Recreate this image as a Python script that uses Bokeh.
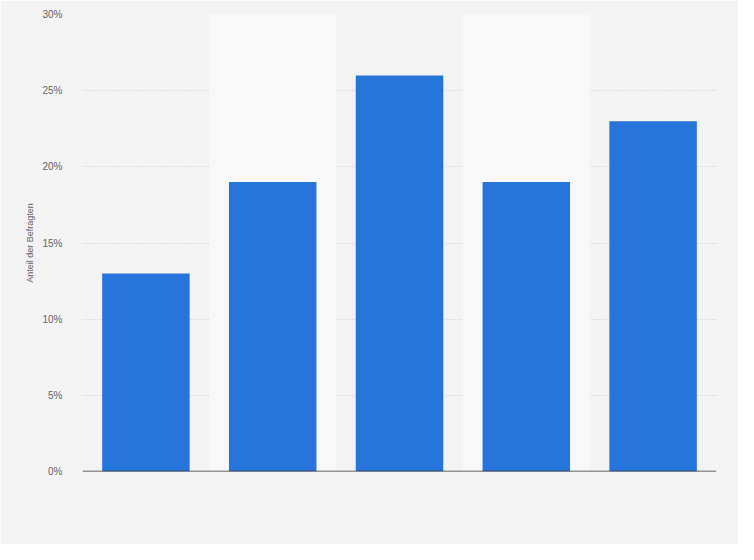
from bokeh.plotting import figure
from bokeh.models import ColumnDataSource, Range1d, FixedTicker, Span
from bokeh.embed import file_html
from bokeh.resources import INLINE

categories = ["1", "2", "3", "4", "5"]
values = [13, 19, 26, 19, 23]
band_categories = ["2", "4"]
y_ticks = [0, 5, 10, 15, 20, 25, 30]
y_tick_labels = ["0%", "5%", "10%", "15%", "20%", "25%", "30%"]

p = figure(width=738, height=544, x_range=categories, y_range=Range1d(0, 30),
           output_backend="svg", toolbar_location=None,
           min_border_left=82, min_border_right=22, min_border_top=14, min_border_bottom=73)
p.background_fill_color = "#f3f3f3"
p.border_fill_color = "#f3f3f3"
p.outline_line_color = None

p.vbar(x=band_categories, top=[30, 30], bottom=0, width=1.0, color="#f8f8f8", line_color=None)

src = ColumnDataSource(dict(x=categories, top=values))
p.vbar(x="x", top="top", width=0.69, source=src, color="#2775db", line_color=None)

p.xaxis.visible = False
p.xgrid.visible = False
p.ygrid.grid_line_color = "#c8c8c8"
p.ygrid.grid_line_dash = "1 2"
p.ygrid.grid_line_width = 1

p.yaxis.ticker = FixedTicker(ticks=y_ticks)
p.yaxis.major_label_overrides = {t: l for t, l in zip(y_ticks, y_tick_labels)}
p.yaxis.axis_line_color = None
p.yaxis.major_tick_line_color = None
p.yaxis.minor_tick_line_color = None
p.yaxis.major_label_text_color = "#666666"
p.yaxis.major_label_text_font = "Liberation Sans"
p.yaxis.major_label_text_font_size = "10px"
p.yaxis.major_label_standoff = 14
p.yaxis.axis_label = "Anteil der Befragten"
p.yaxis.axis_label_text_font = "Liberation Sans"
p.yaxis.axis_label_text_font_size = "9px"
p.yaxis.axis_label_text_font_style = "normal"
p.yaxis.axis_label_text_color = "#666666"
p.yaxis.axis_label_standoff = 4

p.add_layout(Span(location=0, dimension="width", line_color="#333333", line_width=1.3))

open("out.html", "w").write(file_html(p, INLINE))
